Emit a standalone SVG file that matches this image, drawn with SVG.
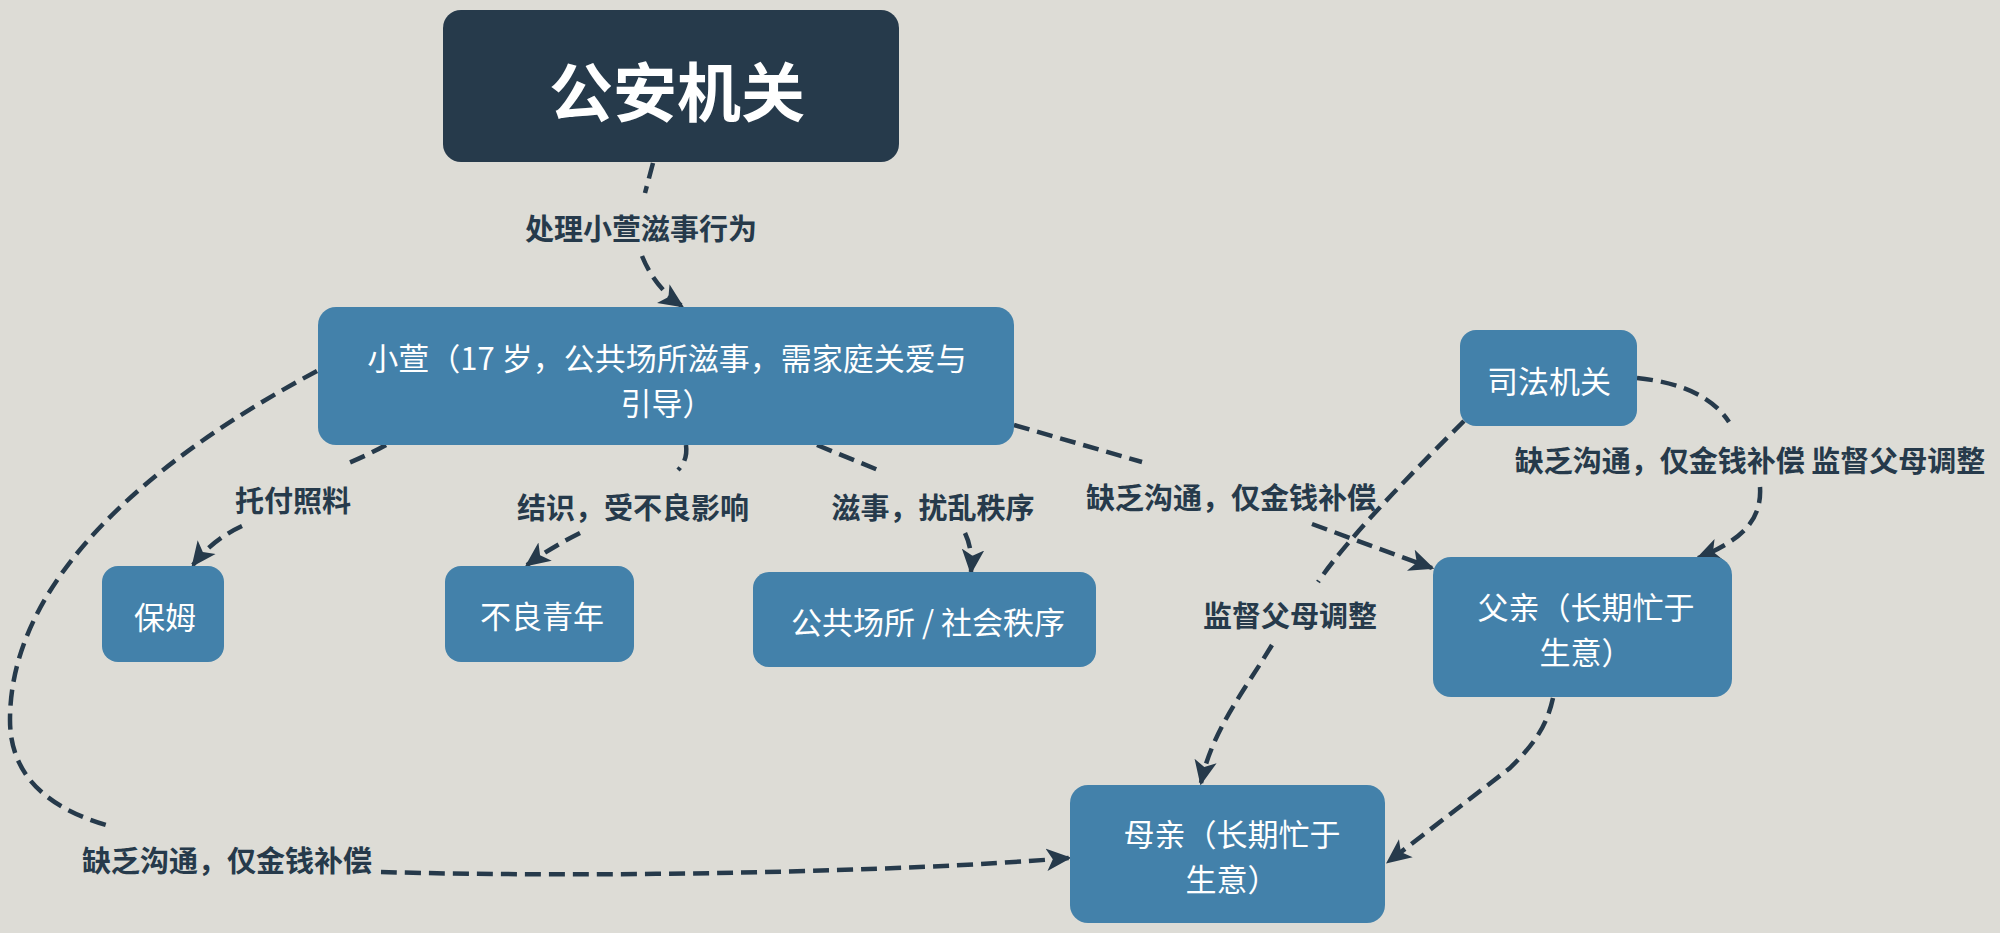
<svg xmlns="http://www.w3.org/2000/svg" width="2000" height="933" viewBox="0 0 2000 933">
<style>
.bg{fill:#dddcd6}
.node{fill:#4381aa}
.dark{fill:#263a4b}
.nt{font-family:"Noto Sans CJK SC","Noto Sans",sans-serif;font-size:31px;fill:#ffffff;text-anchor:middle;dominant-baseline:central}
.title{font-family:"Noto Sans CJK SC","Noto Sans",sans-serif;font-size:64px;font-weight:700;fill:#ffffff;text-anchor:middle;dominant-baseline:central}
.lbl{font-family:"Noto Sans CJK SC","Noto Sans",sans-serif;font-size:29px;font-weight:700;fill:#263a4b;text-anchor:middle;dominant-baseline:central}
.e{fill:none;stroke:#263a4b;stroke-width:4.5;stroke-dasharray:16 8}
.ea{fill:none;stroke:#263a4b;stroke-width:4.5;stroke-dasharray:16 8;marker-end:url(#arr)}
</style>
<defs>
<marker id="arr" viewBox="0 0 20 20" refX="18" refY="10" markerWidth="25" markerHeight="25" markerUnits="userSpaceOnUse" orient="auto">
<path d="M0,1 L20,10 L0,19 L5,10 z" fill="#263a4b"/>
</marker>
</defs>
<rect class="bg" x="0" y="0" width="2000" height="933"/>

<g id="connectors">
<path class="e" d="M653,163 L645,193"/>
<path class="ea" d="M642,256 Q655,288 682,306"/>
<path class="e" d="M386,445 Q368,455 346,464"/>
<path class="ea" d="M242,526 Q212,540 193,565"/>
<path class="e" d="M686,445 Q688,460 678,470"/>
<path class="ea" d="M580,533 Q550,548 527,565"/>
<path class="e" d="M817,445 L878,470"/>
<path class="ea" d="M965,533 Q973,550 971,572"/>
<path class="e" d="M1014,425 L1142,462"/>
<path class="ea" d="M1312,524 L1432,568"/>
<path class="e" d="M1637,378 Q1705,385 1729,422"/>
<path class="ea" d="M1760,487 C1762,520 1742,540 1698,558"/>
<path class="e" d="M1464,421 C1420,465 1350,535 1318,582"/>
<path class="ea" d="M1272,645 C1245,690 1212,730 1201,783"/>
<path class="ea" d="M1553,698 C1546,730 1530,748 1510,768 L1388,862"/>
<path class="e" d="M317,371 C150,460 10,580 10,720 C10,790 70,815 113,827"/>
<path class="ea" d="M381,872 C600,878 900,872 1069,858"/>
<text class="lbl" x="641" y="227">处理小萱滋事行为</text>
<text class="lbl" x="293" y="499">托付照料</text>
<text class="lbl" x="633" y="506">结识，受不良影响</text>
<text class="lbl" x="933" y="506">滋事，扰乱秩序</text>
<text class="lbl" x="1231" y="496">缺乏沟通，仅金钱补偿</text>
<text class="lbl" x="1750" y="459">缺乏沟通，仅金钱补偿 监督父母调整</text>
<text class="lbl" x="1290" y="614">监督父母调整</text>
<text class="lbl" x="227" y="859">缺乏沟通，仅金钱补偿</text>
</g>

<g id="gongan">
<rect class="dark" x="443" y="10" width="456" height="152" rx="18"/>
<text class="title" x="677" y="88">公安机关</text>
</g>
<g id="xiaoxuan">
<rect class="node" x="318" y="307" width="696" height="138" rx="18"/>
<text class="nt" x="667" y="356">小萱（17 岁，公共场所滋事，需家庭关爱与</text>
<text class="nt" x="667" y="401">引导）</text>
</g>
<g id="baomu">
<rect class="node" x="102" y="566" width="122" height="96" rx="16"/>
<text class="nt" x="165" y="615">保姆</text>
</g>
<g id="buliang">
<rect class="node" x="445" y="566" width="189" height="96" rx="16"/>
<text class="nt" x="542" y="614">不良青年</text>
</g>
<g id="gonggong">
<rect class="node" x="753" y="572" width="343" height="95" rx="16"/>
<text class="nt" x="928" y="620">公共场所 / 社会秩序</text>
</g>
<g id="sifa">
<rect class="node" x="1460" y="330" width="177" height="96" rx="16"/>
<text class="nt" x="1549" y="379">司法机关</text>
</g>
<g id="fuqin">
<rect class="node" x="1433" y="557" width="299" height="140" rx="18"/>
<text class="nt" x="1586" y="605">父亲（长期忙于</text>
<text class="nt" x="1586" y="650">生意）</text>
</g>
<g id="muqin">
<rect class="node" x="1070" y="785" width="315" height="138" rx="18"/>
<text class="nt" x="1232" y="832">母亲（长期忙于</text>
<text class="nt" x="1232" y="877">生意）</text>
</g>
</svg>
